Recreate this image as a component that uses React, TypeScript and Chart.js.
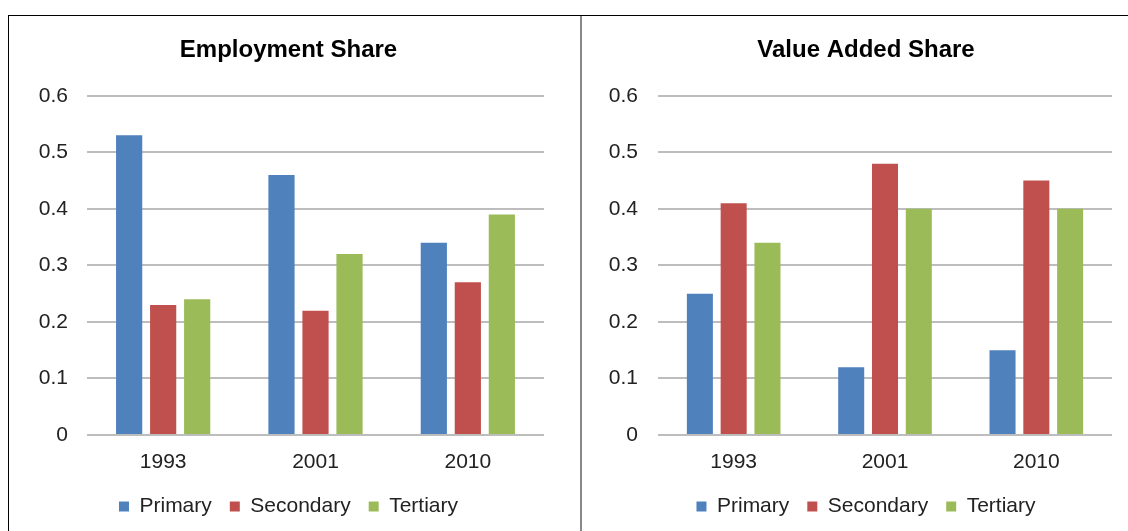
import React, { useEffect, useRef } from "react";
import { Chart, registerables } from "chart.js";

Chart.register(...registerables);

const categories = ["1993", "2001", "2010"];
const seriesNames = ["Primary", "Secondary", "Tertiary"];
const seriesColors = ["#4F81BD", "#C0504D", "#9BBB59"];

const employmentPrimary = [0.53, 0.46, 0.34];
const employmentSecondary = [0.23, 0.22, 0.27];
const employmentTertiary = [0.24, 0.32, 0.39];

const valueAddedPrimary = [0.25, 0.12, 0.15];
const valueAddedSecondary = [0.41, 0.48, 0.45];
const valueAddedTertiary = [0.34, 0.4, 0.4];

const yTicks = [0, 0.1, 0.2, 0.3, 0.4, 0.5, 0.6];

const FONT = "'Liberation Sans', Arial, sans-serif";

type PanelProps = {
  title: string;
  series: number[][];
  left: number;
  width: number;
  padLeft: number;
  padRight: number;
  yWidth: number;
  yPad: number;
};

function Panel(props: PanelProps) {
  const ref = useRef<HTMLCanvasElement | null>(null);
  useEffect(() => {
    if (!ref.current) return;
    const chart = new Chart(ref.current, {
      type: "bar",
      data: {
        labels: categories,
        datasets: props.series.map((vals, i) => ({
          label: seriesNames[i],
          data: vals,
          backgroundColor: seriesColors[i],
          borderWidth: 0,
          categoryPercentage: 0.67,
          barPercentage: 0.77,
        })),
      },
      options: {
        responsive: false,
        animation: false,
        layout: { padding: { left: props.padLeft, right: props.padRight, top: 0, bottom: 4 } },
        plugins: {
          title: {
            display: true,
            text: props.title,
            color: "#000",
            font: { family: FONT, size: 24, weight: "bold" },
            padding: { top: 20, bottom: 31 },
          },
          legend: {
            position: "bottom",
            labels: {
              boxWidth: 10,
              boxHeight: 10,
              padding: 18,
              color: "#222",
              font: { family: FONT, size: 21 },
            },
          },
          tooltip: { enabled: false },
        },
        scales: {
          x: {
            grid: { display: false, drawTicks: false },
            border: { display: false },
            ticks: { color: "#222", padding: 15, font: { family: FONT, size: 21 } },
            afterFit: (s: any) => {
              s.height = 43;
            },
          },
          y: {
            min: 0,
            max: 0.6,
            afterBuildTicks: (s: any) => {
              s.ticks = yTicks.map((v) => ({ value: v }));
            },
            grid: { color: "#bdbdbd", lineWidth: 2, drawTicks: false },
            border: { display: false },
            ticks: {
              color: "#222",
              padding: props.yPad,
              font: { family: FONT, size: 21 },
              callback: (v: any) => (Number(v) === 0 ? "0" : Number(v).toFixed(1)),
            },
            afterFit: (s: any) => {
              s.width = props.yWidth;
              s._computeLabelArea = () => undefined;
            },
          },
        },
      },
    });
    return () => chart.destroy();
  }, []);
  return (
    <canvas
      ref={ref}
      width={props.width}
      height={515}
      style={{ position: "absolute", left: props.left, top: 16, width: props.width, height: 515 }}
    />
  );
}

export default function App() {
  return (
    <div
      style={{
        position: "fixed",
        left: 0,
        top: 0,
        width: 1128,
        height: 531,
        background: "#fff",
        overflow: "hidden",
      }}
    >
      <div style={{ position: "absolute", left: 8, top: 15, width: 1120, height: 1, background: "#000" }} />
      <div style={{ position: "absolute", left: 8, top: 15, width: 1, height: 516, background: "#000" }} />
      <div style={{ position: "absolute", left: 580, top: 16, width: 2, height: 515, background: "#888" }} />
      <Panel
        title="Employment Share"
        series={[employmentPrimary, employmentSecondary, employmentTertiary]}
        left={9}
        width={570}
        padLeft={24}
        padRight={35}
        yWidth={54}
        yPad={19}
      />
      <Panel
        title="Value Added Share"
        series={[valueAddedPrimary, valueAddedSecondary, valueAddedTertiary]}
        left={582}
        width={546}
        padLeft={38}
        padRight={16}
        yWidth={38}
        yPad={20}
      />
    </div>
  );
}
